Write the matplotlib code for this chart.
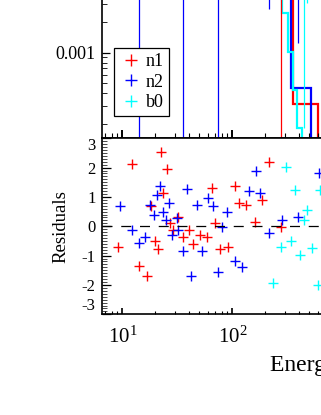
import matplotlib
matplotlib.use('Agg')
import matplotlib.pyplot as plt
from matplotlib.ticker import LogLocator, MultipleLocator, FuncFormatter, NullFormatter

plt.rcParams['font.family'] = ['Liberation Serif', 'DejaVu Serif']
plt.rcParams['mathtext.fontset'] = 'custom'
plt.rcParams['mathtext.rm'] = 'Liberation Serif'
plt.rcParams['mathtext.it'] = 'Liberation Serif:italic'
plt.rcParams['axes.unicode_minus'] = False
plt.rcParams['lines.scale_dashes'] = False

detectors = ['n1', 'n2', 'b0']
colors = ['#ff0000', '#0000ff', '#00ffff']

# residuals (sigma) for each detector
n1_energy = [9.20, 12.33, 14.27, 16.67, 18.24, 19.83, 21.25, 22.48, 23.29, 25.49,
             27.14, 29.08, 32.28, 35.40, 40.65, 44.21, 50.86, 58.53, 64.98, 69.62,
             77.29, 91.96, 105.8, 115.8, 133.2, 160.8, 187.4, 215.6, 277.2]
n1_resid = [-0.72, 2.12, -1.35, -1.68, 0.69, -0.50, -0.78, 2.53, 1.12, 1.97,
            0.12, -0.13, 0.30, -0.38, -0.11, -0.61, -0.30, -0.38, 1.32, 0.10,
            -0.79, -0.70, 1.37, 0.80, 0.72, 0.15, 0.89, 2.19, -0.04]
n2_energy = [9.53, 12.17, 14.19, 16.08, 17.86, 19.42, 20.54, 22.01, 23.59, 24.96,
             26.75, 28.12, 31.22, 32.28, 35.40, 38.50, 42.12, 47.47, 52.72, 59.76,
             66.35, 73.68, 80.12, 88.93, 105.8, 123.3, 142.7, 163.2, 179.7, 214.3,
             281.2, 398.1, 617.9]
n2_resid = [0.69, -0.13, -0.58, -0.36, 0.72, 0.38, 1.06, 1.37, 0.49, 0.21,
            0.80, -0.30, 0.27, -0.13, -0.83, 1.26, -1.68, 0.72, -0.83, 0.95,
            0.69, -1.55, -0.02, 0.49, -1.18, -1.40, 1.21, 1.88, 1.15, -0.22,
            0.21, 0.32, 1.80]
b0_energy = [235.9, 277.2, 305.9, 341.7, 371.5, 412.6, 448.7, 480.8, 527.1, 605.1, 627.0]
b0_resid = [-1.92, -0.72, 2.02, -0.49, 1.23, -0.98, 0.23, 0.55, -0.75, -2.00, 1.23]

# count spectrum: error bars that reach into the plotted range
n1_bar_energy = [277.2]
n1_bar_lo = [1e-6]
n1_bar_hi = [0.02]
n2_bar_energy = [14.19, 35.40, 73.68, 214.3, 398.1]
n2_bar_lo = [1e-6, 1e-6, 1e-6, 2.67e-3, 1.25e-3]
n2_bar_hi = [0.02, 0.02, 0.02, 0.02, 0.02]
b0_bar_energy = [448.7, 480.8]
b0_bar_lo = [1.8e-4, 3.1e-3]
b0_bar_hi = [0.02, 0.02]

# folded model, step per channel
n1_model_edges = [8, 356.3, 597.0, 900]
n1_model = [0.01, 3.10e-4, 5e-5]
n2_model_edges = [8, 339.6, 516.1, 900]
n2_model = [0.01, 4.46e-4, 5e-5]
b0_model_edges = [200, 281.3, 322.9, 358.5, 389.9, 432.8, 1000]
b0_model = [0.01, 2.44e-3, 1.02e-3, 4.29e-4, 1.80e-4, 5e-5]

resid = [(n1_energy, n1_resid), (n2_energy, n2_resid), (b0_energy, b0_resid)]
bars = [(n1_bar_energy, n1_bar_lo, n1_bar_hi), (n2_bar_energy, n2_bar_lo, n2_bar_hi),
        (b0_bar_energy, b0_bar_lo, b0_bar_hi)]
models = [(n1_model_edges, n1_model), (n2_model_edges, n2_model), (b0_model_edges, b0_model)]

W, H = 321, 415
fig = plt.figure(figsize=(W / 100, H / 100), dpi=100)

# axes run past the right/top edge of the picture (cropped view)
x0, x1 = 101.7, 529.2
ax_top = fig.add_axes([x0 / W, 1 - 138.3 / H, (x1 - x0) / W, (138.3 + 119.8) / H])
ax_res = fig.add_axes([x0 / W, 1 - 314.3 / H, (x1 - x0) / W, (314.3 - 138.3) / H],
                      sharex=ax_top)

# top panel
for (e, lo, hi), c in zip(bars, colors):
    ax_top.vlines(e, lo, hi, color=c, lw=0.9)
for (edges, vals), c in zip(models, colors):
    ax_top.stairs(vals, edges, baseline=None, color=c, lw=1.6)

ax_top.set_xscale('log')
ax_top.set_yscale('log')
ax_top.set_xlim(6.5, 5e4)
ax_top.set_ylim(1.435e-4, 0.05)
ax_top.yaxis.set_major_locator(LogLocator(base=10))
ax_top.yaxis.set_minor_locator(LogLocator(base=10, subs=range(2, 10)))
ax_top.yaxis.set_major_formatter(FuncFormatter(lambda v, p: '%g' % v))
ax_top.yaxis.set_minor_formatter(NullFormatter())
ax_top.tick_params(axis='y', which='both', direction='in', left=True, right=True,
                   labelsize=13, pad=4.5)
ax_top.tick_params(axis='y', which='major', length=6, width=0.9)
ax_top.tick_params(axis='y', which='minor', length=3.6, width=0.6)
ax_top.tick_params(axis='x', which='both', direction='in', bottom=True, top=True,
                   labelbottom=False)
ax_top.tick_params(axis='x', which='major', length=5.5, width=1.4)
ax_top.tick_params(axis='x', which='minor', length=3.6, width=0.8)

# residual panel
handles = []
for (e, r), c, name in zip(resid, colors, detectors):
    h, = ax_res.plot(e, r, '+', color=c, ms=7.5, mew=1.0, label=name)
    handles.append(h)
ax_res.axhline(0, color='black', lw=0.9, ls=(0, (7.2, 6.3)))

ax_res.set_ylim(-3, 3)
ax_res.set_yticks(range(-3, 4))
ax_res.yaxis.set_minor_locator(MultipleLocator(0.1))
ax_res.tick_params(axis='y', which='both', direction='in', left=True, right=True,
                   labelsize=12, pad=4.5)
ax_res.tick_params(axis='y', which='major', length=6.5, width=0.9)
ax_res.tick_params(axis='y', which='minor', length=3.6, width=0.5)
ax_res.tick_params(axis='x', which='both', direction='in', bottom=True, top=False,
                   labelsize=15, pad=9)
ax_res.tick_params(axis='x', which='major', length=4, width=1.2)
ax_res.tick_params(axis='x', which='minor', length=2.4, width=0.8)
labels = ax_res.get_yticklabels()
labels[0].set_va('bottom')
labels[-1].set_va('top')

for ax in (ax_top, ax_res):
    for s in ax.spines.values():
        s.set_linewidth(1.2)

ax_res.set_ylabel('Residuals', fontsize=13.5)
ax_res.yaxis.set_label_coords(-0.0952, 0.5)
ax_res.yaxis.label.set_va('center')
ax_res.set_xlabel('Energy (keV)', fontsize=17)
ax_res.xaxis.set_label_coords((270 - x0) / (x1 - x0), (314.3 - 370.7) / 176.0)
ax_res.xaxis.label.set_ha('left')
ax_res.xaxis.label.set_va('baseline')

leg = ax_top.legend(handles=handles, loc='upper left',
                    bbox_to_anchor=(114 / W, 1 - 48 / H), bbox_transform=fig.transFigure,
                    borderaxespad=0, fontsize=13, handlelength=1.3, handletextpad=0.15,
                    borderpad=0.3, labelspacing=0.18, fancybox=False, framealpha=1,
                    edgecolor='black', markerscale=1.1)
leg.get_frame().set_linewidth(0.9)

fig.savefig('out.png', dpi=100)
